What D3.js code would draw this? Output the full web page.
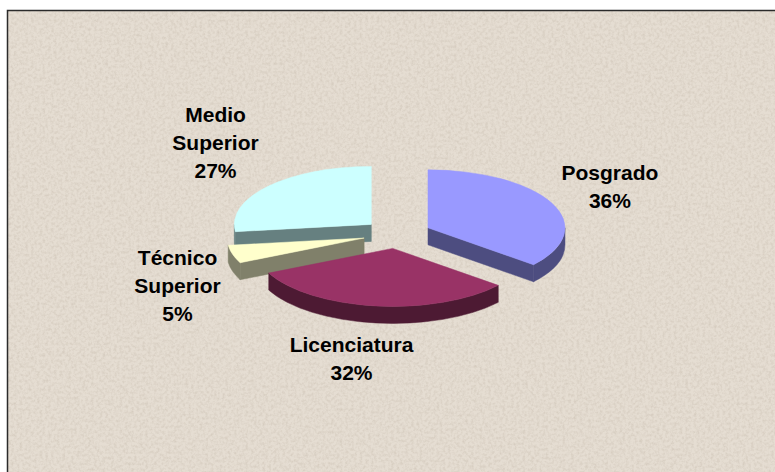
<!DOCTYPE html>
<html>
<head>
<meta charset="utf-8">
<script src="https://cdn.jsdelivr.net/npm/d3@7"></script>
<style>
  html, body { margin: 0; padding: 0; background: #fff; }
  svg { display: block; }
</style>
</head>
<body>
<svg id="chart"></svg>
<script>
// data
let categories = ["Posgrado", "Licenciatura", "Técnico Superior", "Medio Superior"];
let values = [36, 32, 5, 27];
let percentLabels = ["36%", "32%", "5%", "27%"];

// styles
let topColors = ["#9999ff", "#993366", "#ffffcc", "#ccffff"];
let sideColors = ["#4d4d80", "#4d1a33", "#80806a", "#668080"];
// where each label block sits relative to its slice rim point
let labelShift = [[58, -23], [-24, 46], [-55, 11], [-53, -64]];

let width = 775,
  height = 472;
let cx = 397,
  cy = 234,
  rx = 137,
  ry = 58,
  depth = 17,
  explode = 0.25;

let svg = d3.select("#chart").attr("width", width).attr("height", height);

// textured beige background
let defs = svg.append("defs");
let f = defs.append("filter").attr("id", "paper")
  .attr("x", 0).attr("y", 0).attr("width", "100%").attr("height", "100%");
f.append("feTurbulence").attr("type", "fractalNoise")
  .attr("baseFrequency", 0.35).attr("numOctaves", 3).attr("seed", 4).attr("result", "n");
f.append("feColorMatrix").attr("in", "n").attr("type", "matrix")
  .attr("values", "0 0 0 0 0.55  0 0 0 0 0.48  0 0 0 0 0.40  1.6 0 0 0 -0.62");

svg.append("rect").attr("x", 7).attr("y", 10).attr("width", width).attr("height", height)
  .attr("fill", "#e5ddd2");
svg.append("rect").attr("x", 7).attr("y", 10).attr("width", width).attr("height", height)
  .attr("filter", "url(#paper)").attr("opacity", 0.55);
svg.append("path")
  .attr("d", `M7.5,${height} L7.5,10.5 L${width},10.5`)
  .attr("fill", "none").attr("stroke", "#2b2b2b").attr("stroke-width", 1.5);

let pie = d3.pie().sort(null).value((d) => d)
  .startAngle(0).endAngle(2 * Math.PI);
let arcs = pie(values);

// point on the ellipse for angle a (clockwise from 12 o'clock)
function pt(o, a, dy) {
  return [o[0] + rx * Math.sin(a), o[1] - ry * Math.cos(a) + (dy || 0)];
}

arcs.forEach((d, i) => {
  let m = (d.startAngle + d.endAngle) / 2;
  d.index = i;
  d.mid = m;
  d.origin = [cx + explode * rx * Math.sin(m), cy - explode * ry * Math.cos(m)];
});

// back to front
let order = arcs.slice().sort((a, b) => -Math.cos(a.mid) - -Math.cos(b.mid));

let g = svg.append("g");
order.forEach((d) => {
  let o = d.origin,
    a = d.startAngle,
    b = d.endAngle;
  let sg = g.append("g");
  let side = sideColors[d.index];

  // radial cut faces
  [[a, Math.sin(a) < -1e-6], [b, Math.sin(b) > 1e-6]].forEach(([ang, vis]) => {
    if (!vis) return;
    let p = pt(o, ang);
    sg.append("path")
      .attr("d", `M${o[0]},${o[1]} L${p[0]},${p[1]} L${p[0]},${p[1] + depth} L${o[0]},${o[1] + depth} Z`)
      .attr("fill", side).attr("stroke", side).attr("stroke-width", 0.5);
  });

  // outer wall, front half only
  let s = Math.max(a, Math.PI / 2),
    e = Math.min(b, 1.5 * Math.PI);
  if (e > s) {
    let p1 = pt(o, s),
      p2 = pt(o, e);
    sg.append("path")
      .attr("d",
        `M${p1[0]},${p1[1]} A${rx},${ry} 0 0 1 ${p2[0]},${p2[1]}` +
        ` L${p2[0]},${p2[1] + depth} A${rx},${ry} 0 0 0 ${p1[0]},${p1[1] + depth} Z`)
      .attr("fill", side).attr("stroke", side).attr("stroke-width", 0.5);
  }

  // top face
  let p1 = pt(o, a),
    p2 = pt(o, b);
  let large = b - a > Math.PI ? 1 : 0;
  sg.append("path")
    .attr("d", `M${o[0]},${o[1]} L${p1[0]},${p1[1]} A${rx},${ry} 0 ${large} 1 ${p2[0]},${p2[1]} Z`)
    .attr("fill", topColors[d.index]).attr("stroke", topColors[d.index]).attr("stroke-width", 0.5);
});

// labels
let lineH = 28;
arcs.forEach((d, i) => {
  let rim = pt(d.origin, d.mid);
  let lines = categories[i].split(" ").concat([percentLabels[i]]);
  let t = svg.append("text")
    .attr("x", rim[0] + labelShift[i][0])
    .attr("y", rim[1] + labelShift[i][1])
    .attr("text-anchor", "middle")
    .attr("font-family", "Arial, 'Liberation Sans', sans-serif")
    .attr("font-weight", "bold")
    .attr("font-size", "21px")
    .attr("fill", "#000");
  lines.forEach((l, k) => {
    t.append("tspan")
      .attr("x", rim[0] + labelShift[i][0])
      .attr("dy", k === 0 ? 0 : lineH)
      .text(l);
  });
});
</script>
</body>
</html>
